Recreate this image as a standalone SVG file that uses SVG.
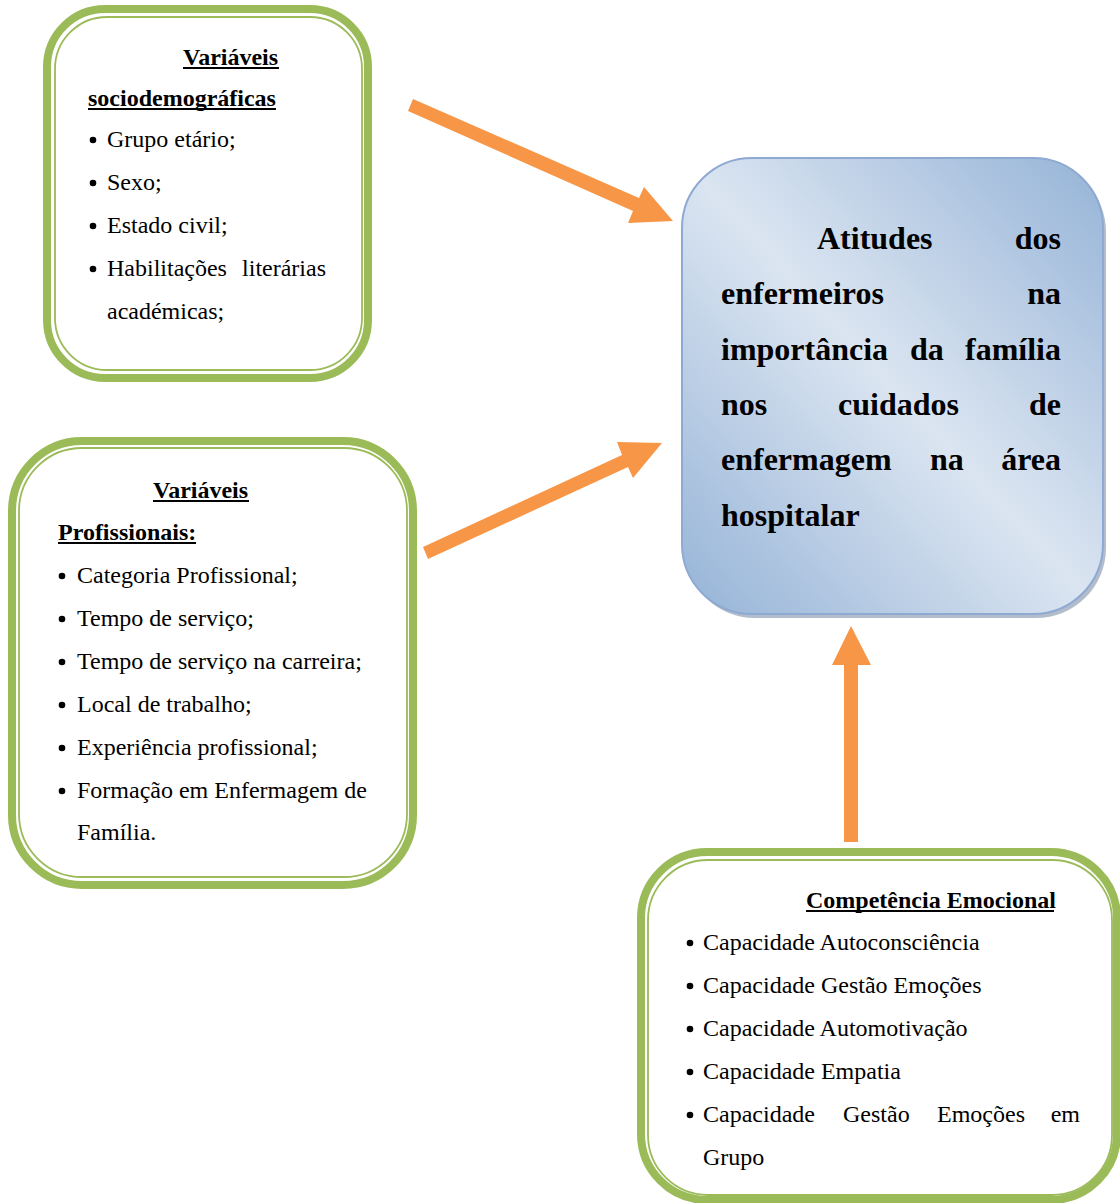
<svg xmlns="http://www.w3.org/2000/svg" width="1120" height="1203" viewBox="0 0 1120 1203">
<defs>
<linearGradient id="blueGrad" x1="0" y1="1" x2="1" y2="0">
<stop offset="0" stop-color="#95b3d7"/>
<stop offset="0.5" stop-color="#dbe5f1"/>
<stop offset="1" stop-color="#95b3d7"/>
</linearGradient>
<style>
.outer{fill:#ffffff;stroke:#9bbb59;stroke-width:8}
.inner{fill:none;stroke:#9bbb59;stroke-width:1.8}
.t{font-family:"Liberation Serif","Times New Roman",serif;font-size:24px;fill:#000}
.h{font-family:"Liberation Serif","Times New Roman",serif;font-size:24px;font-weight:bold;fill:#000}
.c{font-family:"Liberation Serif","Times New Roman",serif;font-size:32px;font-weight:bold;fill:#000}
.u{stroke:#000;stroke-width:2}
.arrow{fill:#f79646}
.dot{fill:#000}
</style>
</defs>
<rect width="1120" height="1203" fill="#ffffff"/>

<g id="connectors">
<polygon class="arrow" points="413,99 639,198 644,187 673,221 628,223 633,211 408,111"/>
<polygon class="arrow" points="423,547 622,455 617,442 662,443 633,478 628,467 428,559"/>
<polygon class="arrow" points="844,842 844,665 832,665 851,626 871,665 858,665 858,842"/>
</g>

<g id="node-sociodemograficas">
<rect class="outer" x="47" y="9" width="321" height="369" rx="58"/>
<rect class="inner" x="55" y="17" width="307" height="353" rx="52"/>
<text class="h" x="183" y="65">Variáveis</text>
<line class="u" x1="183" y1="68" x2="279" y2="68"/>
<text class="h" x="88" y="106">sociodemográficas</text>
<line class="u" x1="88" y1="109" x2="276" y2="109"/>
<circle class="dot" cx="93" cy="140" r="3.3"/>
<text class="t" x="107" y="147">Grupo etário;</text>
<circle class="dot" cx="93" cy="183" r="3.3"/>
<text class="t" x="107" y="190">Sexo;</text>
<circle class="dot" cx="93" cy="226" r="3.3"/>
<text class="t" x="107" y="233">Estado civil;</text>
<circle class="dot" cx="93" cy="269" r="3.3"/>
<text class="t" x="107" y="276">Habilitações</text>
<text class="t" x="326" y="276" text-anchor="end">literárias</text>
<text class="t" x="107" y="319">académicas;</text>
</g>

<g id="node-profissionais">
<rect class="outer" x="12" y="441" width="401" height="444" rx="70"/>
<rect class="inner" x="19" y="448" width="388" height="429" rx="63"/>
<text class="h" x="153" y="498">Variáveis</text>
<line class="u" x1="153" y1="501" x2="249" y2="501"/>
<text class="h" x="58" y="540">Profissionais:</text>
<line class="u" x1="58" y1="543" x2="196" y2="543"/>
<circle class="dot" cx="62" cy="576" r="3.3"/>
<text class="t" x="77" y="583">Categoria Profissional;</text>
<circle class="dot" cx="62" cy="619" r="3.3"/>
<text class="t" x="77" y="626">Tempo de serviço;</text>
<circle class="dot" cx="62" cy="662" r="3.3"/>
<text class="t" x="77" y="669">Tempo de serviço na carreira;</text>
<circle class="dot" cx="62" cy="705" r="3.3"/>
<text class="t" x="77" y="712">Local de trabalho;</text>
<circle class="dot" cx="62" cy="748" r="3.3"/>
<text class="t" x="77" y="755">Experiência profissional;</text>
<circle class="dot" cx="62" cy="791" r="3.3"/>
<text class="t" x="77" y="798">Formação em Enfermagem de</text>
<text class="t" x="77" y="840">Família.</text>
</g>

<g id="node-atitudes">
<rect x="685" y="162" width="421" height="456" rx="70" fill="#7f8fa6" opacity="0.6"/>
<rect x="682" y="158" width="421" height="456" rx="70" fill="url(#blueGrad)" stroke="#8eaad3" stroke-width="2"/>
<text class="c" x="817" y="249">Atitudes</text>
<text class="c" x="1061" y="249" text-anchor="end">dos</text>
<text class="c" x="721" y="304">enfermeiros</text>
<text class="c" x="1061" y="304" text-anchor="end">na</text>
<text class="c" x="721" y="360">importância</text>
<text class="c" x="910" y="360">da</text>
<text class="c" x="1061" y="360" text-anchor="end">família</text>
<text class="c" x="721" y="415">nos</text>
<text class="c" x="838" y="415">cuidados</text>
<text class="c" x="1061" y="415" text-anchor="end">de</text>
<text class="c" x="721" y="470">enfermagem</text>
<text class="c" x="930" y="470">na</text>
<text class="c" x="1061" y="470" text-anchor="end">área</text>
<text class="c" x="721" y="526">hospitalar</text>
</g>

<g id="node-competencia">
<rect class="outer" x="641" y="852" width="476" height="348" rx="66"/>
<rect class="inner" x="648" y="860" width="464" height="335" rx="60"/>
<text class="h" x="806" y="908">Competência Emocional</text>
<line class="u" x1="806" y1="911" x2="1054" y2="911"/>
<circle class="dot" cx="690" cy="943" r="3.3"/>
<text class="t" x="703" y="950">Capacidade Autoconsciência</text>
<circle class="dot" cx="690" cy="986" r="3.3"/>
<text class="t" x="703" y="993">Capacidade Gestão Emoções</text>
<circle class="dot" cx="690" cy="1029" r="3.3"/>
<text class="t" x="703" y="1036">Capacidade Automotivação</text>
<circle class="dot" cx="690" cy="1072" r="3.3"/>
<text class="t" x="703" y="1079">Capacidade Empatia</text>
<circle class="dot" cx="690" cy="1115" r="3.3"/>
<text class="t" x="703" y="1122">Capacidade</text>
<text class="t" x="843" y="1122">Gestão</text>
<text class="t" x="937" y="1122">Emoções</text>
<text class="t" x="1080" y="1122" text-anchor="end">em</text>
<text class="t" x="703" y="1165">Grupo</text>
</g>
</svg>
